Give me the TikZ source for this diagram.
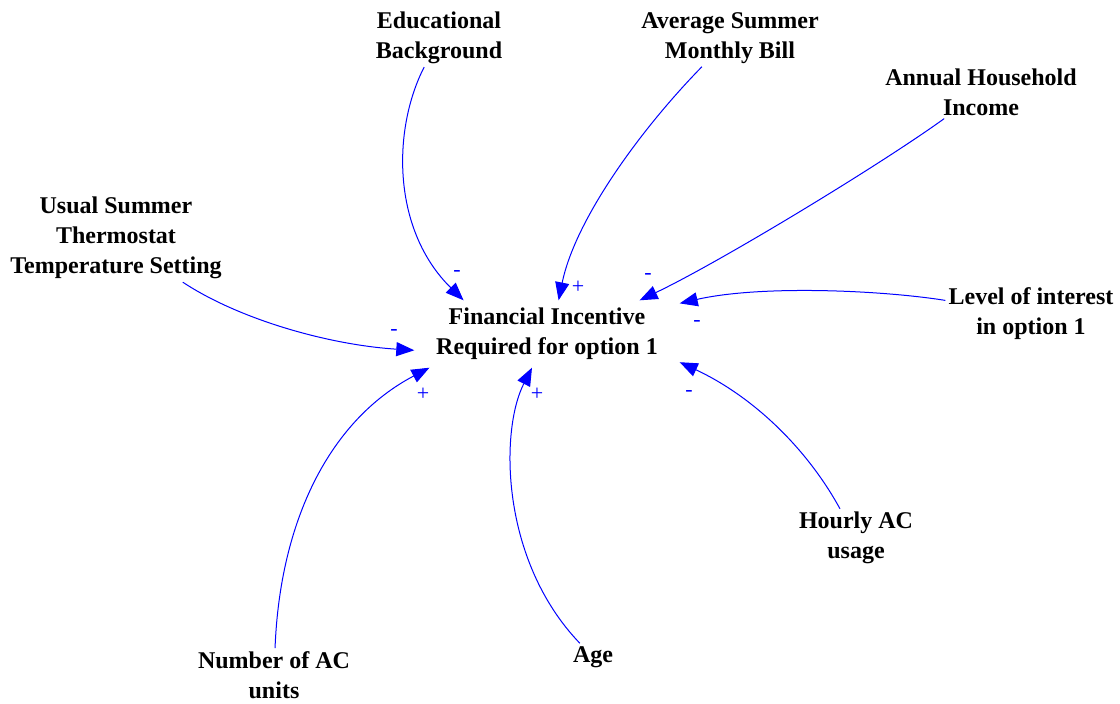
\documentclass[tikz,border=0pt]{standalone}
\usepackage{fontspec}
\setmainfont{Liberation Serif}
\usepackage{tikz}
\usetikzlibrary{arrows.meta}
\definecolor{ink}{HTML}{000000}
\definecolor{link}{HTML}{0000FF}

\begin{document}
\begin{tikzpicture}[
  x=1pt,y=-1pt,
  var/.style={font=\bfseries\fontsize{24}{30}\selectfont,text=ink,align=center,inner sep=3pt},
  core/.style={var,minimum width=265pt,minimum height=67pt},
  link/.style={line width=1pt,color=link,-{Triangle[length=18pt,width=14pt]}},
  sign/.style={font=\fontsize{22}{22}\selectfont,text=link,inner sep=0pt}
]
\useasboundingbox (0,0) rectangle (1120,704);
\node[core] (fin) at (547,334) {Financial Incentive\\Required for option 1};
\node[var] (edu) at (439,38) {Educational\\Background};
\node[var] (bill) at (730,38) {Average Summer\\Monthly Bill};
\node[var] (income) at (981,92) {Annual Household\\Income};
\node[var] (thermo) at (116,238) {Usual Summer\\Thermostat\\Temperature Setting};
\node[var] (interest) at (1031,314) {Level of interest\\in option 1};
\node[var] (usage) at (856,538) {Hourly AC\\usage};
\node[var] (age) at (593,657) {Age};
\node[var] (units) at (274,675) {Number of AC\\units};
% links into the central variable
\draw[link] (edu) .. controls (392,130) and (392,230) .. (fin.158);
\draw[link] (bill) .. controls (640,130) and (575,220) .. (fin.71);
\draw[link] (income) .. controls (880,165) and (720,262) .. (fin.20);
\draw[link] (interest) .. controls (880,290) and (760,285) .. (fin.13);
\draw[link] (thermo) .. controls (240,320) and (330,345) .. (fin.187);
\draw[link] (units) .. controls (280,520) and (330,420) .. (fin.196);
\draw[link] (age) .. controls (500,560) and (500,430) .. (fin.246);
\draw[link] (usage) .. controls (805,445) and (750,395) .. (fin.348);
% polarities
\node[sign] (pEdu) at (457,273) {-};
\node[sign] (pBill) at (578,287) {+};
\node[sign] (pIncome) at (648,276) {-};
\node[sign] (pInterest) at (697,323) {-};
\node[sign] (pThermo) at (394,332) {-};
\node[sign] (pUnits) at (423,394) {+};
\node[sign] (pAge) at (537,394) {+};
\node[sign] (pUsage) at (689,393) {-};
\end{tikzpicture}
\end{document}
